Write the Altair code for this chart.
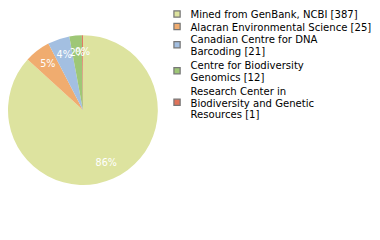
import altair as alt
import pandas as pd
import math

labels = [
    "Mined from GenBank, NCBI [387]",
    "Alacran Environmental Science [25]",
    "Canadian Centre for DNA|Barcoding [21]",
    "Centre for Biodiversity|Genomics [12]",
    "Research Center in|Biodiversity and Genetic|Resources [1]",
]
counts = [387, 25, 21, 12, 1]
colors = ["#dde39f", "#f0ac6f", "#a3bfe1", "#9ec776", "#e0735a"]

total = sum(counts)
df = pd.DataFrame({
    "label": labels,
    "count": counts,
    "order": list(range(len(labels))),
    "pct": [f"{math.floor(c / total * 100)}%" for c in counts],
})

color_scale = alt.Scale(domain=labels, range=colors)

# ---- pie ----
base = alt.Chart(df).encode(
    theta=alt.Theta("count:Q", stack=True),
    order=alt.Order("order:Q"),
)
pie = base.mark_arc(outerRadius=78, stroke=None).encode(
    color=alt.Color("label:N", scale=color_scale, legend=None)
)
pct_text = base.mark_text(
    radius=60, color="white", font="DejaVu Sans", fontSize=10
).encode(text="pct:N")
pie_chart = (pie + pct_text).properties(width=150, height=208)

# ---- legend (built from the label list) ----
FONT_SIZE = 10.5
LINE_H = 12.0
TOP = 5.5
line_rows = []
sym_rows = []
g = 0
extra = 0
for e, lab in enumerate(labels):
    parts = lab.split("|")
    ys = []
    for part in parts:
        y = TOP + g * LINE_H + e * 1.0 + extra * 2.0
        line_rows.append({"label": lab, "line": part, "ypos": y})
        ys.append(y)
        g += 1
    extra += len(parts) - 1
    sym_rows.append({"label": lab, "ypos": sum(ys) / len(ys) - 1.5})

lines_df = pd.DataFrame(line_rows)
sym_df = pd.DataFrame(sym_rows)

leg_text = alt.Chart(lines_df).mark_text(
    align="left", baseline="middle", font="DejaVu Sans",
    fontSize=FONT_SIZE, color="#000000",
).encode(
    x=alt.value(26),
    y=alt.Y("ypos:Q", scale=None, axis=None),
    text="line:N",
)
leg_sym = alt.Chart(sym_df).mark_square(
    size=42, opacity=1, stroke="#777777", strokeWidth=1.3
).encode(
    x=alt.value(12),
    y=alt.Y("ypos:Q", scale=None, axis=None),
    fill=alt.Fill("label:N", scale=color_scale, legend=None),
)
legend_chart = (leg_sym + leg_text).properties(width=200, height=208)

chart = alt.hconcat(pie_chart, legend_chart, spacing=8).properties(
    padding={"left": 0, "top": -4, "right": 0, "bottom": 0},
).configure_view(stroke=None)

chart.save("out.html", embed_options={"renderer": "svg", "actions": False})
